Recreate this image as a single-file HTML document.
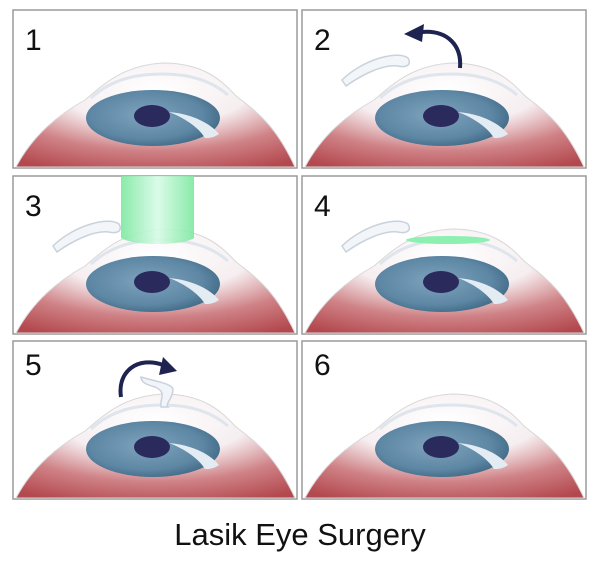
<!DOCTYPE html>
<html><head><meta charset="utf-8"><style>
html,body{margin:0;padding:0;background:#fff;width:600px;height:565px;overflow:hidden}
</style></head><body>
<svg width="600" height="565" viewBox="0 0 600 565" xmlns="http://www.w3.org/2000/svg">
<defs>
<radialGradient id="gv" cx="0.5" cy="0.25" r="0.85">
<stop offset="0" stop-color="#ffffff"/><stop offset="0.4" stop-color="#f6eef0"/><stop offset="0.7" stop-color="#cf8286"/><stop offset="1" stop-color="#b3484e"/>
</radialGradient>
<radialGradient id="gi" cx="0.45" cy="0.45" r="0.6">
<stop offset="0" stop-color="#7fa3bd"/><stop offset="0.7" stop-color="#5d87a4"/><stop offset="1" stop-color="#3f6884"/>
</radialGradient>
<linearGradient id="gg" x1="0" y1="0" x2="1" y2="0">
<stop offset="0" stop-color="#7de8a0"/><stop offset="0.5" stop-color="#d6fbe6"/><stop offset="1" stop-color="#7de8a0"/>
</linearGradient>
<g id="eye">
<path d="M3,157 C20,125 45,105 72,90 C90,75 110,55 150,53 C190,53 208,70 222,85 C240,100 260,110 282,157 Z" fill="url(#gv)" stroke="#d8d8d8" stroke-width="1"/>
<path d="M78,88 C100,68 125,64 150,64 C180,64 200,72 215,85" fill="none" stroke="#dfe5ec" stroke-width="3"/>
<ellipse cx="140" cy="108" rx="67" ry="28" fill="url(#gi)"/>
<ellipse cx="139" cy="106" rx="18" ry="11" fill="#2a2a5c"/>
<path d="M156,102 C180,104 198,114 206,124 C200,128 196,128 192,128 C186,118 172,108 156,102 Z" fill="#e3ebf3"/>
</g>
<rect id="box" width="284" height="158" fill="#fff" stroke="#9a9a9a" stroke-width="1.5"/>
<path id="flap" d="M40,70 C60,50 95,40 106,48 C110,55 104,58 96,56 C80,54 58,66 44,76 Z" fill="#f3f6f9" stroke="#c9d2dc" stroke-width="1.5"/>
</defs>
<g font-family="Liberation Sans, sans-serif" font-size="30" fill="#111">
<g transform="translate(13,10)"><use href="#box"/><use href="#eye"/><text x="12" y="40">1</text></g>
<g transform="translate(302,10)"><use href="#box"/><use href="#eye"/><text x="12" y="40">2</text>
<use href="#flap"/>
<path d="M158,58 C160,35 145,20 120,22" fill="none" stroke="#1e2350" stroke-width="4"/>
<path d="M102,24 L122,14 L120,32 Z" fill="#1e2350"/></g>
<g transform="translate(13,176)"><use href="#box"/><use href="#eye"/><text x="12" y="40">3</text>
<use href="#flap"/>
<path d="M108,0 L181,0 L181,62 C170,70 120,70 108,62 Z" fill="url(#gg)" opacity="0.9"/></g>
<g transform="translate(302,176)"><use href="#box"/><use href="#eye"/><text x="12" y="40">4</text>
<use href="#flap"/>
<ellipse cx="146" cy="64" rx="42" ry="4" fill="#8ef0b0"/></g>
<g transform="translate(13,341)"><use href="#box"/><use href="#eye"/><text x="12" y="34">5</text>
<path d="M128,36 C140,40 158,42 160,48 C160,58 152,62 155,66 L148,66 C146,58 155,52 142,46 C135,44 128,42 128,36 Z" fill="#f1f4f8" stroke="#c9d2dc" stroke-width="1.5"/>
<path d="M108,56 C104,30 125,15 150,24" fill="none" stroke="#1e2350" stroke-width="4"/>
<path d="M164,30 L146,34 L150,16 Z" fill="#1e2350"/></g>
<g transform="translate(302,341)"><use href="#box"/><use href="#eye"/><text x="12" y="34">6</text></g>
<text x="300" y="545" text-anchor="middle" font-size="31">Lasik Eye Surgery</text>
</g>
</svg>
</body></html>
